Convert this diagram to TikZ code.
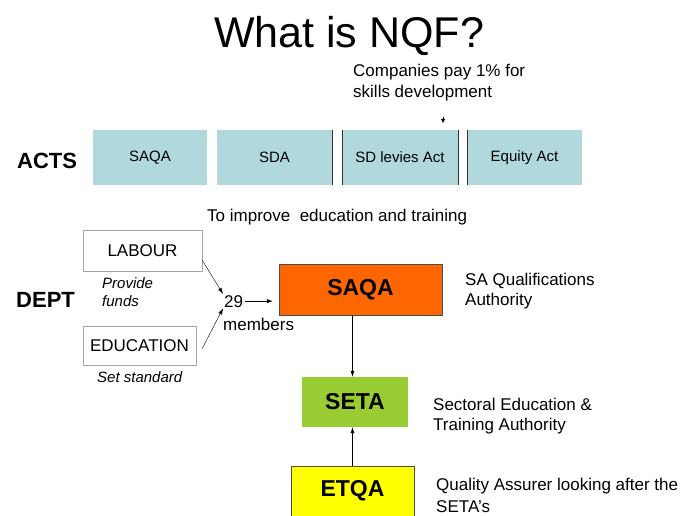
\documentclass[tikz,border=0pt]{standalone}
\usepackage{fontspec}
\setmainfont{Liberation Sans}
\usepackage{tikz}
\usetikzlibrary{arrows.meta}

\definecolor{actblue}{RGB}{176,216,221}
\definecolor{saqaorange}{RGB}{255,102,0}
\definecolor{setagreen}{RGB}{153,204,51}
\definecolor{etqayellow}{RGB}{255,255,0}

\begin{document}
\begin{tikzpicture}[x=1pt,y=-1pt,
	txt/.style={inner sep=0pt, anchor=base west, font=\fontsize{17}{20}\selectfont},
	act/.style={fill=actblue, minimum height=55pt, inner sep=0pt, font=\fontsize{15}{18}\selectfont},
	dept/.style={draw=gray!70, fill=white, inner sep=0pt, font=\fontsize{17}{20}\selectfont},
	body/.style={inner sep=0pt, font=\fontsize{23}{26}\selectfont\bfseries},
	arr/.style={-{Latex[length=6pt,width=4pt]}, black}]
	\useasboundingbox (0,0) rectangle (691,516);

	\node[anchor=base, font=\fontsize{43}{50}\selectfont] (title) at (349,48) {What is NQF?};

	% levy note
	\node[txt] (levy1) at (353,77) {Companies pay 1\% for};
	\node[txt] (levy2) at (353,98) {skills development};
	\coordinate (levytail) at (443,117);
	\coordinate (levytip) at (443,123);
	\draw [-{Latex[length=4pt,width=4pt]}, line width=0.1pt, black] (levytail) to (levytip);

	% acts
	\node[anchor=base west, inner sep=0pt, font=\fontsize{22}{26}\selectfont\bfseries] (acts) at (17,168) {ACTS};
	\node[act, minimum width=114pt] (actsaqa) at (150,157.5) {SAQA};
	\node[act, minimum width=115pt] (actsda) at (274.5,157.5) {SDA};
	\node[act, minimum width=116pt] (actlevies) at (400,157.5) {SD levies Act};
	\node[act, minimum width=115pt] (actequity) at (524.5,157.5) {Equity Act};
	\draw [-, black!80] (actsda.north east) to (actsda.south east);
	\draw [-, black!80] (actlevies.north west) to (actlevies.south west);
	\draw [-, black!80] (actlevies.north east) to (actlevies.south east);
	\draw [-, black!80] (actequity.north west) to (actequity.south west);

	\node[txt] (improve) at (207,222) {To improve\ \ education and training};

	% departments
	\node[anchor=base west, inner sep=0pt, font=\fontsize{22}{26}\selectfont\bfseries] (dept) at (16,307) {DEPT};
	\node[dept, minimum width=119pt, minimum height=41pt] (labour) at (142.5,250.5) {LABOUR};
	\node[txt, font=\fontsize{15}{18}\selectfont\itshape] (funds1) at (102,288) {Provide};
	\node[txt, font=\fontsize{15}{18}\selectfont\itshape] (funds2) at (102,306) {funds};
	\node[dept, minimum width=113pt, minimum height=39pt] (education) at (139.5,345.5) {EDUCATION};
	\node[txt, font=\fontsize{15}{18}\selectfont\itshape] (standard) at (97,382) {Set standard};
	\node[txt, inner sep=1pt] (num) at (223,307) {29};
	\node[txt] (members) at (223,330) {members};

	% authorities
	\node[body, fill=saqaorange, draw=black!70, minimum width=163pt, minimum height=51pt] (saqa) at (360.5,289.5) {SAQA};
	\node[body, fill=setagreen, minimum width=106pt, minimum height=50pt] (seta) at (355,402) {SETA};
	\node[body, fill=etqayellow, draw=black!70, minimum width=123pt, minimum height=50pt] (etqa) at (352.5,491) {ETQA};

	\node[txt] (saqa1) at (465,285) {SA Qualifications};
	\node[txt] (saqa2) at (465,305) {Authority};
	\node[txt] (seta1) at (433,410) {Sectoral Education \&};
	\node[txt] (seta2) at (433,430) {Training Authority};
	\node[txt] (etqa1) at (436,490) {Quality Assurer looking after the};
	\node[txt] (etqa2) at (436,512) {SETA's};

	\draw [arr] ([yshift=11pt]labour.south east) to (num.north west);
	\draw [arr] ([xshift=6pt,yshift=-3pt]education.east) to (num.south west);
	\draw [arr, shorten <=1pt, shorten >=6pt] (num.east) to (saqa.west |- num.east);
	\draw [arr] (saqa.south -| etqa.north) to (seta.north -| etqa.north);
	\draw [arr] (etqa.north) to (seta.south -| etqa.north);
\end{tikzpicture}
\end{document}
